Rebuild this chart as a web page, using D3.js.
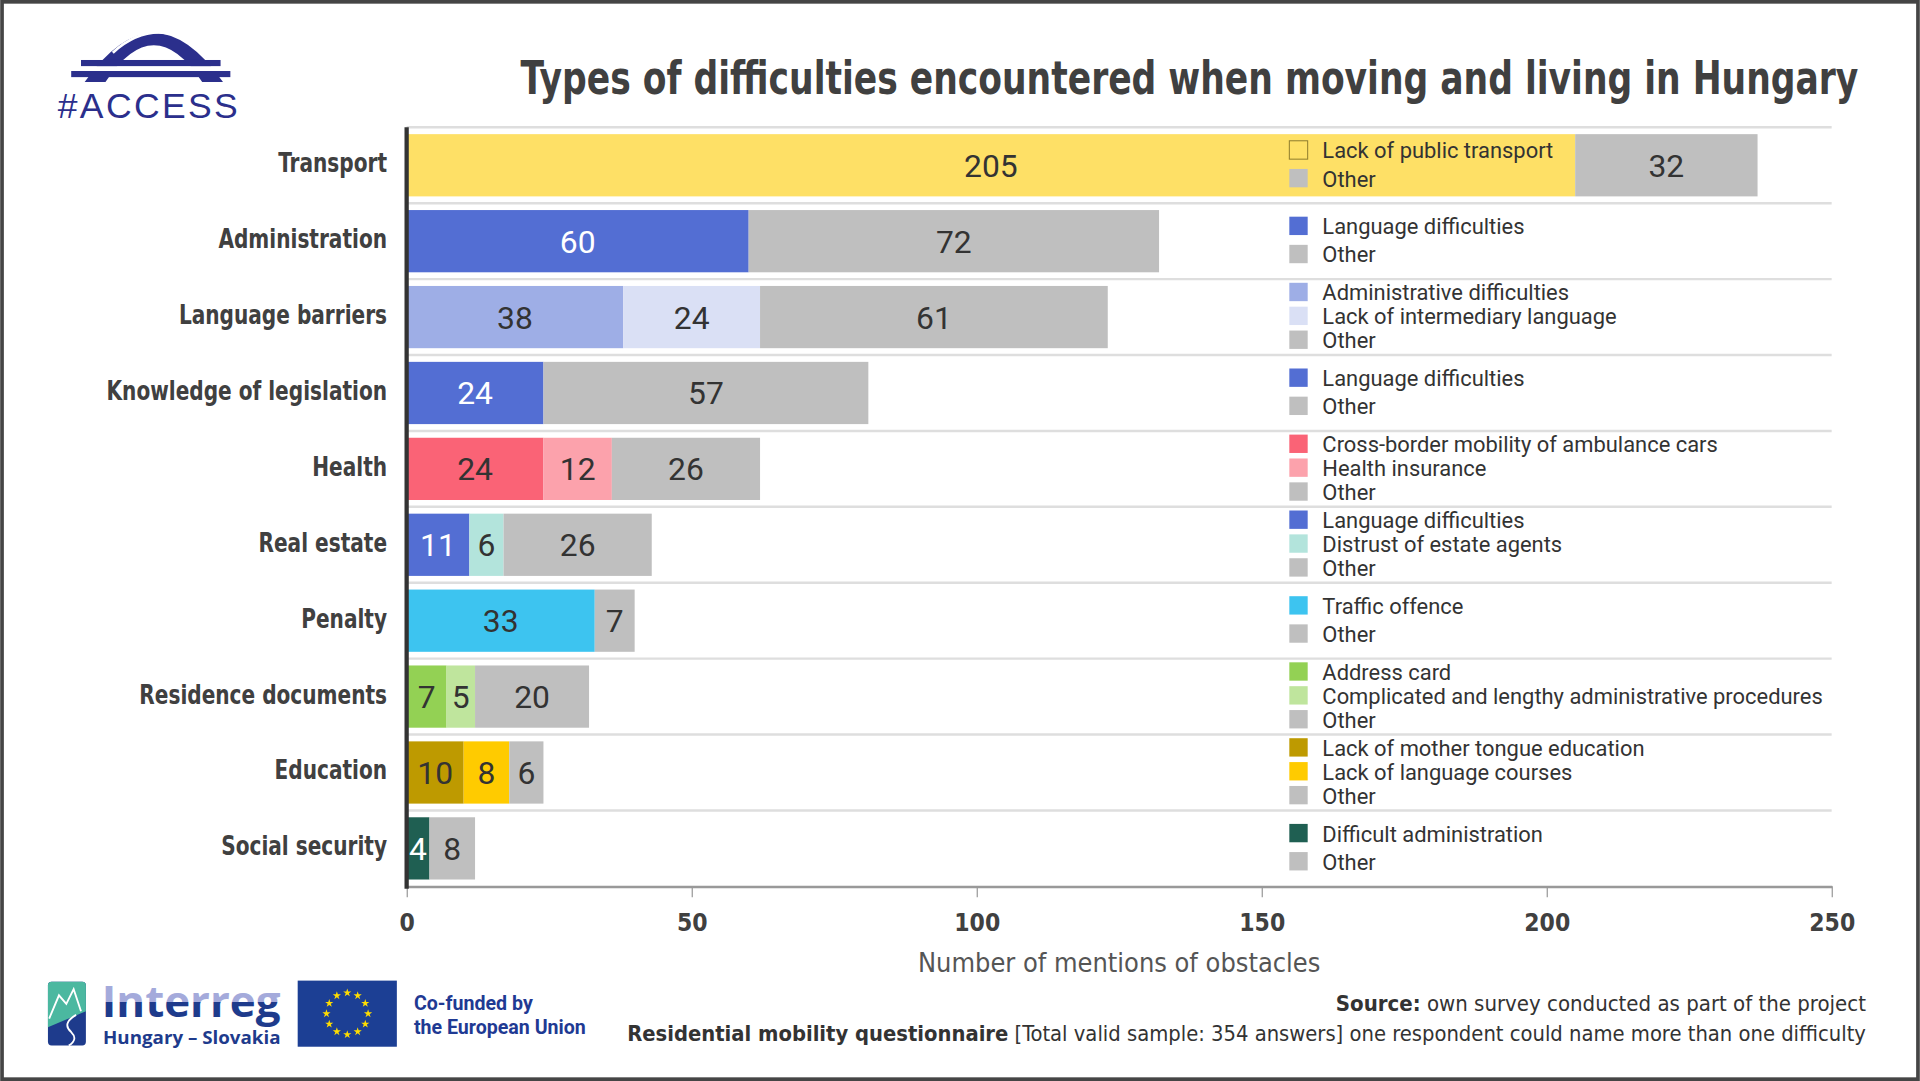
<!DOCTYPE html>
<html>
<head>
<meta charset="utf-8">
<script src="https://cdn.jsdelivr.net/npm/d3@7"></script>
<style>
  html, body { margin: 0; padding: 0; background: #fff; }
  svg { display: block; }
</style>
</head>
<body>
<div class="board"></div>
<script>
// data
var categories = ["Transport", "Administration", "Language barriers", "Knowledge of legislation",
  "Health", "Real estate", "Penalty", "Residence documents", "Education", "Social security"];

var segNames = [
  ["Lack of public transport", "Other"],
  ["Language difficulties", "Other"],
  ["Administrative difficulties", "Lack of intermediary language", "Other"],
  ["Language difficulties", "Other"],
  ["Cross-border mobility of ambulance cars", "Health insurance", "Other"],
  ["Language difficulties", "Distrust of estate agents", "Other"],
  ["Traffic offence", "Other"],
  ["Address card", "Complicated and lengthy administrative procedures", "Other"],
  ["Lack of mother tongue education", "Lack of language courses", "Other"],
  ["Difficult administration", "Other"]
];

var segValues = [
  [205, 32],
  [60, 72],
  [38, 24, 61],
  [24, 57],
  [24, 12, 26],
  [11, 6, 26],
  [33, 7],
  [7, 5, 20],
  [10, 8, 6],
  [4, 8]
];

var xTicks = [0, 50, 100, 150, 200, 250];

var typeNames = ["Other", "Lack of public transport", "Language difficulties", "Administrative difficulties",
  "Lack of intermediary language", "Cross-border mobility of ambulance cars", "Health insurance",
  "Distrust of estate agents", "Traffic offence", "Address card",
  "Complicated and lengthy administrative procedures", "Lack of mother tongue education",
  "Lack of language courses", "Difficult administration"];
var typeColors = ["#bfbfbf", "#fee066", "#536ed3", "#9eaee6", "#dae0f5", "#fa6376", "#fca2ac",
  "#b3e4dc", "#3dc4f0", "#93d154", "#bfe59d", "#be9a00", "#ffcb00", "#1f5f52"];
var darkTypes = ["Language difficulties", "Difficult administration"];

var W = 1568, H = 883;
var txt = "#404040";
var narrow = "'Liberation Sans Narrow', 'DejaVu Sans Condensed', 'Roboto', sans-serif";
var plain = "Roboto, 'Liberation Sans', sans-serif";

var svg = d3.select(".board").append("svg")
  .attr("width", 1920)
  .attr("height", 1081)
  .attr("viewBox", "0 0 " + W + " " + H);

svg.append("rect").attr("width", W).attr("height", H).attr("fill", "#fff");

// squeeze a text horizontally so it spans the given width, anchored at (ax, ay)
var fitWidth = function(sel, ax, ay, w) {
  var bw = sel.node().getBBox().width;
  sel.attr("transform", "translate(" + ax + "," + ay + ") scale(" + (w / bw) + ",1)");
};

var color = d3.scaleOrdinal().domain(typeNames).range(typeColors);

var x = d3.scaleLinear().domain([0, 250]).range([332, 1496]);
var y = d3.scaleBand().domain(categories).range([104, 724])
  .paddingInner(0.18).paddingOuter(0.09);
var step = y.step();
var rowTop = function(c) { return y(c) - step * 0.09; };

// row separators
svg.append("g").selectAll("line").data(categories).enter().append("line")
  .attr("x1", x(0)).attr("x2", x(250))
  .attr("y1", function(c) { return rowTop(c); })
  .attr("y2", function(c) { return rowTop(c); })
  .attr("stroke", "#dedede").attr("stroke-width", 2);

// stacked bars
var rows = categories.map(function(c, i) {
  var acc = 0;
  return segValues[i].map(function(v, j) {
    var s = { cat: c, name: segNames[i][j], value: v, x0: acc, x1: acc + v };
    acc += v;
    return s;
  });
});

var barG = svg.append("g");
rows.forEach(function(segs) {
  var g = barG.append("g");
  g.selectAll("rect").data(segs).enter().append("rect")
    .attr("x", function(d) { return x(d.x0); })
    .attr("width", function(d) { return x(d.x1) - x(d.x0); })
    .attr("y", function(d) { return y(d.cat); })
    .attr("height", y.bandwidth())
    .attr("fill", function(d) { return color(d.name); });
  g.selectAll("text").data(segs).enter().append("text")
    .attr("x", function(d) { return (x(d.x0) + x(d.x1)) / 2; })
    .attr("y", function(d) { return y(d.cat) + y.bandwidth() / 2; })
    .attr("dy", "0.36em")
    .attr("text-anchor", "middle")
    .attr("font-family", plain)
    .attr("font-size", 26)
    .attr("fill", function(d) { return darkTypes.indexOf(d.name) >= 0 ? "#fff" : "#333"; })
    .text(function(d) { return d.value; });
});

// legends beside each bar
var lgX = 1053, lgSw = 15;
categories.forEach(function(c, i) {
  var names = segNames[i];
  var n = names.length;
  var sp = n === 2 ? 23 : 19.5;
  var mid = rowTop(c) + step / 2;
  names.forEach(function(nm, j) {
    var cy = mid + (j - (n - 1) / 2) * sp;
    var onBar = rows[i].some(function(s) { return s.name === nm && x(s.x0) <= lgX && x(s.x1) >= lgX + lgSw; });
    svg.append("rect")
      .attr("x", lgX).attr("y", cy - lgSw / 2 - 1)
      .attr("width", lgSw).attr("height", lgSw)
      .attr("fill", color(nm))
      .attr("stroke", onBar ? "#8c7a2c" : "none")
      .attr("stroke-width", 0.8);
    svg.append("text")
      .attr("x", 1080).attr("y", cy)
      .attr("dy", "0.33em")
      .attr("font-family", plain)
      .attr("font-size", 17.9)
      .attr("fill", "#333")
      .text(nm);
  });
});

// x axis
var xAxis = svg.append("g")
  .attr("transform", "translate(0,724)")
  .call(d3.axisBottom(x).tickValues(xTicks).tickSize(9).tickPadding(13).tickSizeOuter(0));
xAxis.select(".domain").attr("stroke", "#999").attr("stroke-width", 2);
xAxis.selectAll(".tick line").attr("stroke", "#999");
xAxis.selectAll(".tick text")
  .attr("font-family", narrow).attr("font-weight", "bold")
  .attr("font-size", 20).attr("fill", txt);

// y axis line
svg.append("line")
  .attr("x1", x(0)).attr("x2", x(0)).attr("y1", 104).attr("y2", 726)
  .attr("stroke", "#333").attr("stroke-width", 3.5);

// category labels
svg.append("g").selectAll("text").data(categories).enter().append("text")
  .attr("transform", function(c) { return "translate(316," + (y(c) + y.bandwidth() / 2 - 2) + ") scale(0.83,1)"; })
  .attr("dy", "0.35em")
  .attr("text-anchor", "end")
  .attr("font-family", narrow).attr("font-weight", "bold")
  .attr("font-size", 22).attr("fill", txt)
  .text(function(c) { return c; });

svg.append("text")
  .attr("x", 914).attr("y", 794)
  .attr("text-anchor", "middle")
  .attr("font-family", narrow).attr("font-size", 22).attr("fill", "#555")
  .text("Number of mentions of obstacles");

// title
var title = svg.append("text")
  .attr("font-family", narrow).attr("font-weight", "bold")
  .attr("font-size", 38).attr("fill", txt)
  .text("Types of difficulties encountered when moving and living in Hungary");
fitWidth(title, 425, 77, 1093);

// source notes
var s1 = svg.append("text").attr("x", 1524).attr("y", 826).attr("text-anchor", "end")
  .attr("font-family", narrow).attr("font-size", 18).attr("fill", "#333");
s1.append("tspan").attr("font-weight", "bold").text("Source:");
s1.append("tspan").text(" own survey conducted as part of the project");
var s2 = svg.append("text").attr("x", 1524).attr("y", 850).attr("text-anchor", "end")
  .attr("font-family", narrow).attr("font-size", 17.8).attr("fill", "#333");
s2.append("tspan").attr("font-weight", "bold").text("Residential mobility questionnaire");
s2.append("tspan").text(" [Total valid sample: 354 answers] one respondent could name more than one difficulty");

// #ACCESS logo
var navy = "#2b2f8c";
var logo = svg.append("g");
logo.append("path")
  .attr("d", "M69,67 Q125.5,-13 182,67 L165,67 Q125.5,7 86,67 Z")
  .attr("fill", navy);
logo.append("path")
  .attr("d", "M92,43 Q124,14 160,36")
  .attr("fill", "none").attr("stroke", "#fff").attr("stroke-width", 2.2);
logo.append("rect").attr("x", 60).attr("y", 54).attr("width", 130).attr("height", 4).attr("fill", "#fff");
logo.append("rect").attr("x", 66).attr("y", 49).attr("width", 114).attr("height", 5).attr("fill", navy);
logo.append("rect").attr("x", 58).attr("y", 58).attr("width", 130).attr("height", 5).attr("fill", navy);
logo.append("text")
  .attr("x", 47).attr("y", 96)
  .attr("textLength", 147).attr("lengthAdjust", "spacing")
  .attr("font-family", "'Liberation Sans', Arial, sans-serif")
  .attr("font-size", 29).attr("fill", navy)
  .text("#ACCESS");

// Interreg logo
var defs = svg.append("defs");
var gr = defs.append("linearGradient").attr("id", "ig").attr("x1", 0).attr("y1", 0).attr("x2", 0).attr("y2", 1);
gr.append("stop").attr("offset", "0.52").attr("stop-color", "#a4aadb");
gr.append("stop").attr("offset", "0.52").attr("stop-color", "#1e3b8c");
var ir = svg.append("g");
ir.append("rect").attr("x", 39).attr("y", 802).attr("width", 31).attr("height", 52).attr("rx", 3).attr("fill", "#1e3b8c");
ir.append("path").attr("d", "M42,802 L67,802 Q70,802 70,805 L70,826 L39,839 L39,805 Q39,802 42,802 Z").attr("fill", "#4bb8a0");
ir.append("path").attr("d", "M40,832 L48,813 L54,820 L60,808 L66,826").attr("fill", "none").attr("stroke", "#fff").attr("stroke-width", 1.5);
ir.append("path").attr("d", "M62,829 Q50,836 58,843 Q64,849 56,854").attr("fill", "none").attr("stroke", "#fff").attr("stroke-width", 1.5);
ir.append("text").attr("x", 83).attr("y", 831)
  .attr("textLength", 146).attr("lengthAdjust", "spacingAndGlyphs")
  .attr("font-family", "'Open Sans', 'DejaVu Sans', sans-serif").attr("font-weight", "bold")
  .attr("font-size", 35).attr("fill", "url(#ig)")
  .text("Interreg");
ir.append("text").attr("x", 84).attr("y", 853)
  .attr("textLength", 145).attr("lengthAdjust", "spacingAndGlyphs")
  .attr("font-family", "'Open Sans', sans-serif").attr("font-weight", "bold")
  .attr("font-size", 14).attr("fill", "#1e3b8c")
  .text("Hungary \u2013 Slovakia");

// EU flag
var eu = svg.append("g");
eu.append("rect").attr("x", 243).attr("y", 801).attr("width", 81).attr("height", 54).attr("fill", "#1c3f94");
var star = d3.symbol().type(d3.symbolStar).size(14);
d3.range(12).forEach(function(k) {
  var a = k * Math.PI / 6;
  eu.append("path").attr("d", star)
    .attr("transform", "translate(" + (283.5 + 17 * Math.sin(a)) + "," + (828 - 17 * Math.cos(a)) + ")")
    .attr("fill", "#ffdd00");
});
svg.append("text").attr("x", 338).attr("y", 825)
  .attr("font-family", "Roboto, sans-serif").attr("font-weight", "bold")
  .attr("font-size", 16).attr("fill", "#1f3a93").text("Co-funded by");
svg.append("text").attr("x", 338).attr("y", 845)
  .attr("font-family", "Roboto, sans-serif").attr("font-weight", "bold")
  .attr("font-size", 16).attr("fill", "#1f3a93").text("the European Union");

// frame
svg.append("rect").attr("x", 1.5).attr("y", 1.5).attr("width", W - 3).attr("height", H - 3)
  .attr("fill", "none").attr("stroke", "#454545").attr("stroke-width", 3);
</script>
</body>
</html>
